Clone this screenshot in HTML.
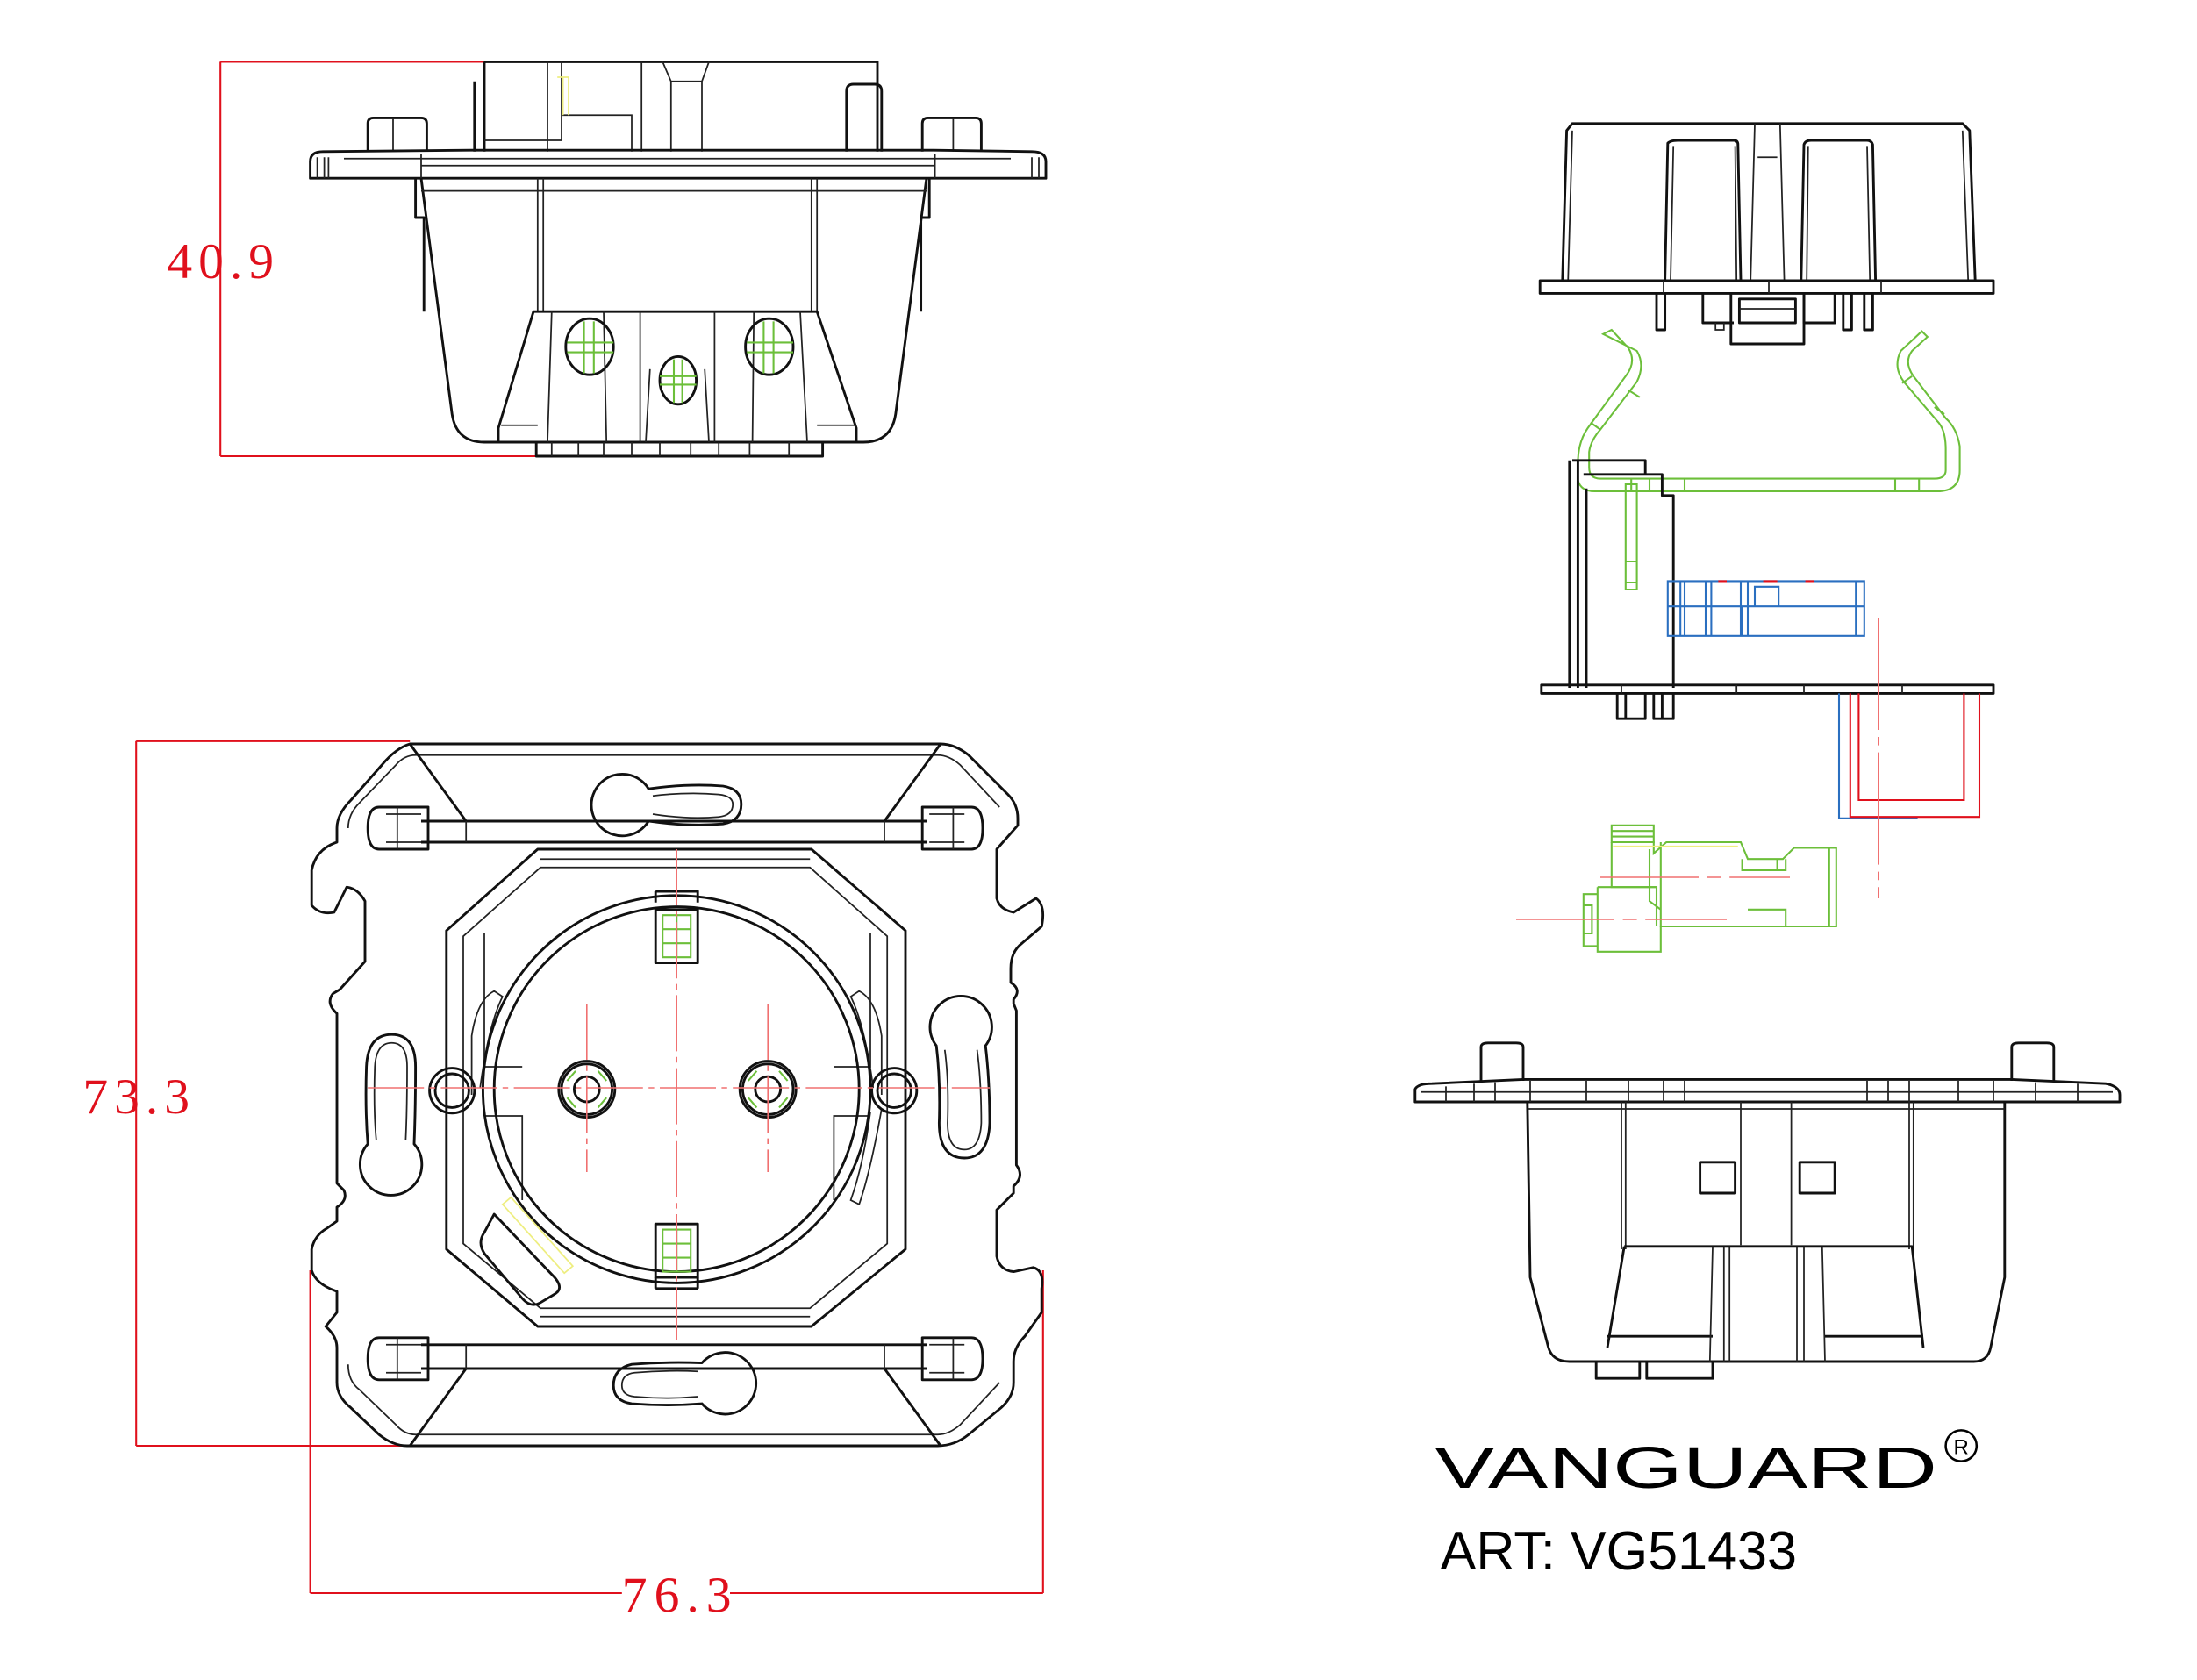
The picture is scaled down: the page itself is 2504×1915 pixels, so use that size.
<!DOCTYPE html>
<html><head><meta charset="utf-8"><style>
html,body{margin:0;padding:0;background:#fff;}
svg{display:block;}
.k{fill:none;stroke:#111;stroke-width:1.8;stroke-linejoin:round}
.t{fill:none;stroke:#222;stroke-width:1.1}
.g{fill:none;stroke:#6cbf3a;stroke-width:1.3}
.b{fill:none;stroke:#2a6fc0;stroke-width:1.3}
.r{fill:none;stroke:#e0101c;stroke-width:1.3}
.rc{fill:none;stroke:#f07070;stroke-width:1}
.y{fill:none;stroke:#eeee80;stroke-width:1.1}
.dt{font-family:"Liberation Serif",serif;fill:#e0101c;font-size:36px}
</style></head><body>
<svg width="2504" height="1915" viewBox="0 0 2504 1915" xmlns="http://www.w3.org/2000/svg">
<g transform="scale(1.6)">
<!-- ========== TOP LEFT SIDE VIEW ========== -->
<path class="r" d="M157 44 V325 M157 44 H345 M157 325 H382"/>
<text class="dt" x="157" y="198" text-anchor="middle" textLength="76">40.9</text>
<path class="k" d="M345 44 H625 V108 M345 44 V108 M338 58 V108"/>
<path class="t" d="M390 44 V108 M345 100 H400 V44 M400 82 H450 V108 M457 44 V108 M472 44 L478 58 H500 L505 44 M478 58 V108 M500 58 V108"/>
<path class="y" d="M397 55 H405 V82 M401 55 V82"/>
<path class="k" d="M603 108 V65 Q603 60 608 60 H623 Q628 60 628 65 V108"/>
<path class="k" d="M262 108 V88 Q262 84 266 84 H300 Q304 84 304 88 V108 M657 108 V88 Q657 84 661 84 H695 Q699 84 699 88 V108"/>
<path class="t" d="M280 84 V108 M679 84 V108"/>
<path class="k" d="M221 127 V115 Q221 108 230 108 L335 107 H665 L735 108 Q745 108 745 115 V127 Z"/>
<path class="t" d="M226 127 V112 M231 127 V112 M234 127 V112 M300 110 V127 M666 110 V127 M735 127 V112 M740 127 V112 M245 113 H720 M300 118 H666"/>
<path class="k" d="M296 127 V155 H302 V222 M662 127 V155 H656 V222"/>
<path class="k" d="M300 127 L322 295 Q325 315 345 315 H615 Q635 315 638 295 L660 127"/>
<path class="t" d="M383 127 V222 M387 127 V222 M578 127 V222 M582 127 V222 M300 136 H660"/>
<path class="k" d="M380 222 H582 L610 305 V315 M380 222 L355 305 V315"/>
<path class="t" d="M357 303 H383 M582 303 H610 M393 222 L390 315 M430 222 L432 315 M456 222 V315 M509 222 V315 M537 222 L536 315 M570 222 L575 315 M463 263 L460 315 M502 263 L505 315"/>
<ellipse class="k" cx="420" cy="247" rx="17" ry="20"/><ellipse class="k" cx="548" cy="247" rx="17" ry="20"/><ellipse class="k" cx="483" cy="271" rx="13" ry="17"/>
<path class="g" d="M404 244 H437 M404 251 H437 M416 229 V266 M423 229 V266 M532 244 H565 M532 251 H565 M544 229 V266 M551 229 V266 M470 268 H496 M470 274 H496 M480 256 V287 M486 256 V287"/>
<path class="k" d="M382 315 V325 H586 V315"/>
<path class="t" d="M393 315 V325 M412 315 V325 M430 315 V325 M450 315 V325 M470 315 V325 M492 315 V325 M512 315 V325 M534 315 V325 M562 315 V325"/>

<!-- ========== FRONT VIEW ========== -->
<path class="r" d="M97 528 V1030 M97 528 H292 M97 1030 H292"/>
<text class="dt" x="97" y="793" text-anchor="middle" textLength="76">73.3</text>
<path class="r" d="M221 905 V1135 M743 905 V1135 M221 1135 H443 M520 1135 H743"/>
<text class="dt" x="482" y="1148" text-anchor="middle" textLength="78">76.3</text>
<path class="k" d="M292 530 H670 Q680 530 690 538 L718 566 Q725 573 725 583 V588 L710 605 V640 Q712 648 722 650 L738 640 Q745 645 742 660 L728 672 Q720 678 720 690 V700 Q728 705 722 712 V715 L724 720 V830 Q730 838 722 845 V850 L710 862 V895 Q712 905 722 906 L736 903 Q744 905 742 918 L742 935 L730 952 Q722 960 722 970 L722 985 Q722 995 713 1003 L690 1022 Q680 1030 668 1030 H290 Q280 1030 270 1022 L250 1003 Q240 995 240 985 V960 Q240 952 232 945 L240 935 V920 Q225 915 222 905 V890 Q224 880 233 875 L240 870 V860 Q248 855 245 848 L240 843 V722 Q232 715 237 708 L242 705 L260 685 V642 Q255 633 247 632 L238 650 Q228 652 222 645 V620 Q225 605 240 600 L240 590 Q240 580 250 570 L272 545 Q282 533 292 530 Z"/>
<path class="t" d="M296 538 H668 Q676 538 684 545 L712 575 M248 590 Q248 580 256 572 L282 545 Q288 538 296 538 M296 1022 H668 Q676 1022 684 1015 L712 985 M248 972 Q248 984 256 990 L282 1015 Q288 1022 296 1022"/>
<path class="k" d="M300 585 H660 M300 600 H660 M300 958 H660 M300 975 H660 M292 530 L332 585 M670 530 L630 585 M292 1030 L332 975 M670 1030 L630 975"/>
<path class="t" d="M332 585 V600 M630 585 V600 M332 958 V975 M630 958 V975"/>
<g class="k">
<path d="M270 575 H305 V605 H270 Q262 605 262 590 Q262 575 270 575 Z"/><path class="t" d="M275 580 H300 M275 600 H300 M283 575 V605"/>
<path d="M692 575 H657 V605 H692 Q700 605 700 590 Q700 575 692 575 Z"/><path class="t" d="M662 580 H687 M662 600 H687 M679 575 V605"/>
<path d="M270 953 H305 V983 H270 Q262 983 262 968 Q262 953 270 953 Z"/><path class="t" d="M275 958 H300 M275 978 H300 M283 953 V983"/>
<path d="M692 953 H657 V983 H692 Q700 983 700 968 Q700 953 692 953 Z"/><path class="t" d="M662 958 H687 M662 978 H687 M679 953 V983"/>
</g>
<path class="k" d="M462 562 Q490 558 515 560 Q528 562 528 573 Q528 585 515 587 Q490 589 462 585 A22 22 0 1 1 462 562 Z"/>
<path class="t" d="M465 567 Q490 564 512 566 Q522 567 522 573 Q522 581 512 582 Q490 584 465 580"/>
<path class="k" d="M500 1000 Q475 1002 450 1000 Q437 998 437 987 Q437 975 450 972 Q475 970 500 971 A22 22 0 1 1 500 1000 Z"/>
<path class="t" d="M497 995 Q475 997 452 995 Q443 994 443 987 Q443 979 452 978 Q475 976 497 977"/>
<path class="k" d="M262 815 Q260 790 261 760 Q262 737 279 737 Q296 737 296 760 Q296 790 295 815 A22 22 0 1 1 262 815 Z"/>
<path class="t" d="M268 812 Q266 790 267 760 Q268 743 279 743 Q290 743 290 760 Q290 790 289 812"/>
<path class="k" d="M702 745 Q705 770 705 800 Q704 825 687 825 Q669 825 669 800 Q670 770 667 745 A22 22 0 1 1 702 745 Z"/>
<path class="t" d="M696 748 Q699 770 699 800 Q698 819 687 819 Q675 819 675 800 Q676 770 673 748"/>
<path class="k" d="M383 605 H578 L645 663 V890 L578 945 H383 L318 890 V663 Z"/>
<path class="t" d="M385 618 H577 L632 667 V886 L577 932 H385 L330 886 V667 Z M385 612 H577 M385 938 H577"/>
<path class="t" d="M336 780 V738 Q340 712 352 706 L358 710 Q348 730 342 775 M628 780 V738 Q624 712 612 706 L606 710 Q616 730 622 775 M628 790 Q620 835 612 858 L606 855 Q615 830 620 792"/>
<path class="t" d="M345 665 V760 H372 M345 795 H372 V855 M620 665 V760 H594 M620 795 H594 V855"/>
<circle class="k" cx="482" cy="776" r="138"/><circle class="k" cx="482" cy="776" r="130"/>
<path class="k" d="M467 635 H497 V643 M467 635 V643 M467 918 H497 M467 910 V918 M497 910 V918"/>
<rect class="k" x="467" y="648" width="30" height="38"/><rect class="k" x="467" y="872" width="30" height="38"/>
<path class="g" d="M472 652 H492 V682 H472 Z M472 662 H492 M472 672 H492 M482 652 V682 M472 876 H492 V906 H472 Z M472 886 H492 M472 896 H492 M482 876 V906"/>
<circle class="k" cx="322" cy="777" r="16"/><circle class="k" cx="322" cy="777" r="12"/><circle class="k" cx="637" cy="777" r="16"/><circle class="k" cx="637" cy="777" r="12"/>
<circle class="k" cx="418" cy="776" r="20"/><circle class="k" cx="418" cy="776" r="18"/><circle class="k" cx="418" cy="776" r="9"/>
<circle class="k" cx="547" cy="776" r="20"/><circle class="k" cx="547" cy="776" r="18"/><circle class="k" cx="547" cy="776" r="9"/>
<path class="g" d="M404 770 L410 763 M404 782 L410 789 M432 770 L426 763 M432 782 L426 789 M533 770 L539 763 M533 782 L539 789 M561 770 L555 763 M561 782 L555 789"/>
<path class="k" d="M352 865 L395 910 Q402 918 395 922 L385 928 Q378 932 372 925 L345 893 Q340 885 345 878 Z"/>
<path class="y" d="M358 858 L402 907 L408 902 L364 853 Z"/>
<path class="rc" d="M262 775 H705 M482 605 V955 M418 715 V835 M547 715 V835" stroke-dasharray="40 4 4 4"/>

<!-- ========== TOP RIGHT EXPLODED VIEW ========== -->
<path class="k" d="M1113 200 L1116 93 L1120 88 H1398 L1403 93 L1407 200"/>
<path class="t" d="M1120 93 L1117 200 M1398 93 L1402 200 M1250 88 L1247 200 M1268 88 L1271 200 M1252 112 H1266"/>
<path class="k" d="M1186 200 L1188 102 Q1190 100 1195 100 H1235 Q1238 100 1238 103 L1240 200 M1283 200 L1285 103 Q1286 100 1290 100 H1330 Q1333 100 1334 103 L1336 200"/>
<path class="t" d="M1190 200 L1192 104 M1236 104 L1237 200 M1288 104 L1287 200 M1330 104 L1332 200"/>
<path class="k" d="M1097 200 H1420 V209 H1097 Z"/>
<path class="t" d="M1185 200 V209 M1260 200 V209 M1340 200 V209"/>
<path class="k" d="M1180 209 V235 H1186 V209 M1313 209 V235 H1319 V209 M1328 209 V235 H1334 V209 M1213 209 V230 H1235 M1285 209 V230 H1307 V209"/>
<path class="k" d="M1233 209 V245 H1285 V209 M1239 213 H1279 V230 H1239 Z"/>
<path class="t" d="M1239 220 H1279 M1222 230 V235 H1228 V230"/>
<path class="g" d="M1142 238 L1148 235 L1160 248 Q1166 258 1158 268 L1131 305 Q1124 315 1124 330 V342 Q1126 350 1136 350 H1380 Q1396 350 1396 335 V318 Q1394 305 1386 298 L1363 268 Q1356 258 1362 250 L1373 240 L1369 236 L1354 250 Q1348 262 1357 273 L1380 300 Q1386 306 1386 320 V335 Q1386 341 1378 341 H1140 Q1132 341 1132 333 V322 Q1133 314 1140 306 L1166 272 Q1172 260 1166 250 Z"/>
<path class="g" d="M1160 278 L1168 283 M1140 306 L1133 301 M1362 268 L1355 273 M1378 290 L1385 295 M1162 341 V350 M1175 341 V350 M1200 341 V350 M1350 341 V350 M1367 341 V350"/>
<path class="k" d="M1118 328 V490 M1124 328 V490 M1120 328 H1172 V338 H1184 V353 H1192 V490 M1128 338 H1172 M1130 348 V490"/>
<path class="g" d="M1158 345 H1166 V420 H1158 Z M1158 400 H1166 M1158 415 H1166"/>
<path class="b" d="M1188 414 H1328 V453 H1188 Z M1188 432 H1328 M1197 414 V453 M1200 414 V453 M1215 414 V453 M1219 414 V453 M1240 414 V453 M1245 414 V453 M1322 414 V453 M1250 418 H1267 V432 H1250 Z M1241 432 V453"/>
<path class="r" d="M1224 414 H1230 M1256 414 H1266 M1286 414 H1292"/>
<path class="k" d="M1098 488 H1420 V494 H1098 Z"/>
<path class="t" d="M1155 488 V494 M1237 488 V494 M1285 488 V494 M1355 488 V494"/>
<path class="k" d="M1152 494 V512 H1172 V494 M1178 494 V512 H1192 V494 M1158 494 V512 M1184 494 V512"/>
<path class="b" d="M1310 494 V583 H1366"/>
<path class="r" d="M1318 494 V582 H1410 V494 M1324 494 V570 H1399 V494"/>
<path class="rc" d="M1338 440 V640" stroke-dasharray="80 5 6 5"/>
<path class="g" d="M1148 588 H1178 V600 H1148 Z M1148 592 H1178 M1148 596 H1178"/>
<path class="g" d="M1148 600 H1178 V608 L1187 600 H1240 L1245 612 H1270 L1278 604 H1308 V660 H1183 V648 L1175 642 V605 M1148 600 V632 H1180 V660 M1183 600 V660 M1303 604 V660 M1241 612 V620 H1272 V612 M1245 648 H1272 V660 M1266 612 V620"/>
<path class="g" d="M1138 632 V678 H1183 V660 M1138 632 H1180 M1128 637 H1138 V674 H1128 Z M1128 645 H1134 V665 H1128"/>
<path class="y" d="M1149 603 H1238"/>
<path class="rc" d="M1080 655 H1230 M1140 625 H1275" stroke-dasharray="70 6 10 6"/>

<!-- ========== BOTTOM RIGHT SIDE VIEW ========== -->
<path class="k" d="M1055 770 V746 Q1055 743 1060 743 H1080 Q1085 743 1085 746 V770 M1433 770 V746 Q1433 743 1438 743 H1458 Q1463 743 1463 746 V770"/>
<path class="k" d="M1008 785 V776 Q1010 772 1020 772 L1085 769 H1433 L1500 772 Q1510 774 1510 780 V785 Z"/>
<path class="t" d="M1012 778 H1505 M1030 774 V785 M1050 772 V785 M1065 771 V785 M1090 770 V785 M1130 770 V785 M1160 770 V785 M1185 770 V785 M1200 770 V785 M1330 770 V785 M1345 770 V785 M1360 770 V785 M1395 770 V785 M1420 770 V785 M1450 771 V785 M1480 772 V785"/>
<path class="k" d="M1088 785 L1090 910 L1103 960 Q1106 970 1118 970 H1406 Q1416 970 1418 960 L1428 910 V785"/>
<path class="t" d="M1155 785 V890 M1158 785 V890 M1360 785 V890 M1363 785 V890 M1240 785 V887 M1276 785 V887 M1088 790 H1428"/>
<path class="k" d="M1157 888 H1362 L1370 960 M1157 888 L1145 960 M1145 952 H1220 M1300 952 H1370"/>
<path class="t" d="M1220 888 L1218 970 M1228 888 V970 M1232 888 V970 M1280 888 V970 M1285 888 V970 M1298 888 L1300 970"/>
<rect class="k" x="1211" y="828" width="25" height="22"/><rect class="k" x="1282" y="828" width="25" height="22"/>
<path class="k" d="M1137 970 V982 H1168 V970 M1173 970 V982 H1220 V970"/>

<text x="1022" y="1060" font-family="Liberation Sans, sans-serif" font-size="42" textLength="358" lengthAdjust="spacingAndGlyphs" fill="#000">VANGUARD</text>
<circle cx="1397" cy="1030" r="11" fill="none" stroke="#000" stroke-width="1.6"/>
<text x="1397" y="1036" font-family="Liberation Sans, sans-serif" font-size="15" text-anchor="middle" fill="#000">R</text>
<text x="1026" y="1118" font-family="Liberation Sans, sans-serif" font-size="39" textLength="254" lengthAdjust="spacingAndGlyphs" fill="#000">ART: VG51433</text>
</g>
</svg>
</body></html>
